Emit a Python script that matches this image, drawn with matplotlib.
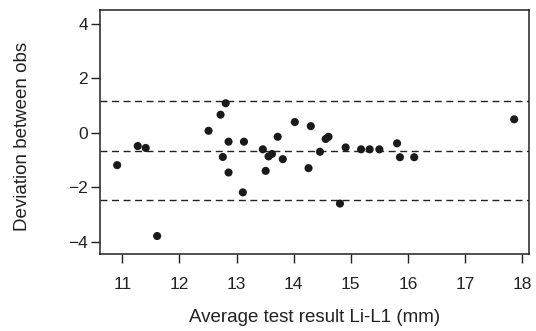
import numpy as np
import matplotlib
matplotlib.use("Agg")
import matplotlib.pyplot as plt

plt.rcParams['font.family'] = ['Liberation Sans', 'DejaVu Sans']

# moyenne des deux mesures (mm) et ecart entre observateurs
moyenne = [10.91, 11.27, 11.41, 11.61, 12.51, 12.72, 12.81, 12.76, 12.86, 12.86,
           13.13, 13.11, 13.46, 13.56, 13.62, 13.51, 13.72, 13.81, 14.02, 14.26,
           14.30, 14.46, 14.56, 14.61, 14.81, 14.91, 15.18, 15.33, 15.50, 15.81,
           15.86, 16.11, 17.86]
ecart = [-1.19, -0.49, -0.56, -3.79, 0.07, 0.66, 1.08, -0.89, -0.33, -1.46,
         -0.33, -2.19, -0.61, -0.87, -0.78, -1.40, -0.15, -0.97, 0.39, -1.30,
         0.24, -0.70, -0.23, -0.15, -2.60, -0.54, -0.61, -0.61, -0.61, -0.39,
         -0.90, -0.90, 0.49]

# biais moyen et limites d'accord
lignes = [1.15, -0.66, -2.46]

x_ticks = [11, 12, 13, 14, 15, 16, 17, 18]
y_ticks = [-4, -2, 0, 2, 4]

fig = plt.figure(figsize=(5.36, 3.31), dpi=100)
ax = fig.add_axes([0.1866, 0.2326, 0.8004, 0.7372])

for v in lignes:
    ax.axhline(v, color='#222222', linestyle=(0, (5, 3.3)), linewidth=1.0)

ax.scatter(moyenne, ecart, s=34, color='#1a1a1a', zorder=3, edgecolors='none')

ax.set_xlim(10.61, 18.12)
ax.set_ylim(-4.45, 4.5)
ax.set_xticks(x_ticks)
ax.set_yticks(y_ticks)
ax.set_yticklabels(['\u22124', '\u22122', '0', '2', '4'])

for s in ax.spines.values():
    s.set_linewidth(1.1)
    s.set_color('#222222')

ax.tick_params(axis='both', direction='out', length=6.5, width=1.0,
               labelsize=12.5, color='#222222', labelcolor='#222222')
ax.tick_params(axis='x', pad=10)
ax.tick_params(axis='y', pad=2)

ax.set_xlabel('Average test result Li-L1 (mm)', fontsize=13.5, color='#222222')
ax.set_ylabel('Deviation between obs', fontsize=13.5, color='#222222')
ax.xaxis.set_label_coords(0.5, -0.225)
ax.yaxis.set_label_coords(-0.16, 0.48)

plt.savefig("out.png", dpi=100)
